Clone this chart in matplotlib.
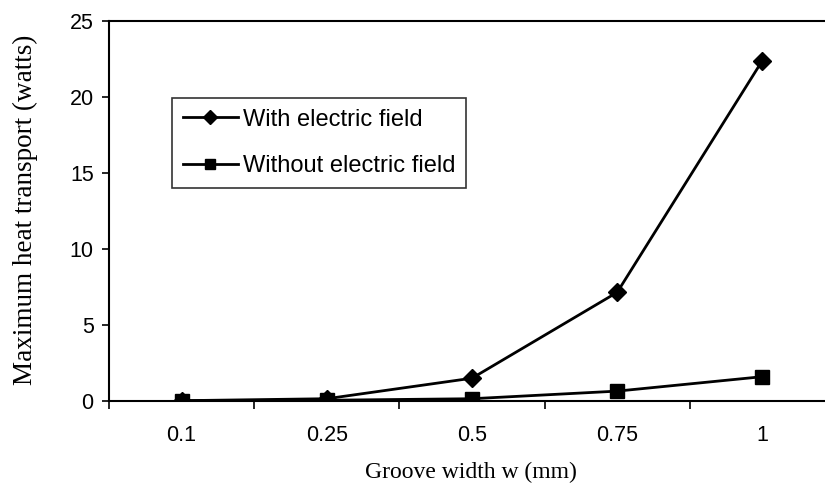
import matplotlib
matplotlib.use("Agg")
import matplotlib.pyplot as plt

categories = ["0.1", "0.25", "0.5", "0.75", "1"]
with_field = [0.02, 0.15, 1.5, 7.15, 22.4]
without_field = [0.02, 0.05, 0.15, 0.65, 1.6]
y_ticks = [0, 5, 10, 15, 20, 25]

fig = plt.figure(figsize=(8.25, 4.98), dpi=100)
ax = fig.add_axes([109/825, 1-401/498, (835-109)/825, (401-21)/498])

x = list(range(len(categories)))
ax.plot(x, with_field, color="black", lw=2, marker="D", ms=9, label="With electric field")
ax.plot(x, without_field, color="black", lw=2, marker="s", ms=10, label="Without electric field")

ax.set_xlim(-0.5, len(categories) - 0.5)
ax.set_ylim(0, 25)
ax.set_yticks(y_ticks)
ax.set_xticks([i - 0.5 for i in range(len(categories) + 1)])
ax.set_xticklabels([])
ax.set_xticks(x, minor=True)
ax.set_xticklabels(categories, minor=True)
ax.tick_params(axis="x", which="minor", length=0, pad=17)
ax.tick_params(axis="x", which="major", length=6, width=1.2, direction="out")
ax.tick_params(axis="y", length=5, width=1.2, direction="out", pad=6)
for lab in ax.get_yticklabels() + ax.get_xticklabels(minor=True):
    lab.set_fontfamily("Liberation Sans")
    lab.set_fontsize(15.5)

for s in ["left", "bottom", "top", "right"]:
    ax.spines[s].set_linewidth(1.5)

ax.set_ylabel("Maximum heat transport (watts)", family="Liberation Serif", fontsize=19.5)
ax.yaxis.label.set_va("center")
ax.yaxis.set_label_coords((25-109)/726, (401-210)/380)
ax.set_xlabel("Groove width w (mm)", family="Liberation Serif", fontsize=17)
ax.xaxis.label.set_va("center")
ax.xaxis.set_label_coords((471-109)/726, -(472-401)/380)

leg = ax.legend(loc="upper left", bbox_to_anchor=((172-109)/726, (401-98)/380),
                prop={"family": "Liberation Sans", "size": 17}, frameon=True, fancybox=False,
                handlelength=2.35, borderpad=0.45, labelspacing=1.05, handletextpad=0.22,
                borderaxespad=0, markerscale=0.75)
leg.get_frame().set_edgecolor("black")
leg.get_frame().set_linewidth(1.2)

fig.savefig("out.png", dpi=100)
